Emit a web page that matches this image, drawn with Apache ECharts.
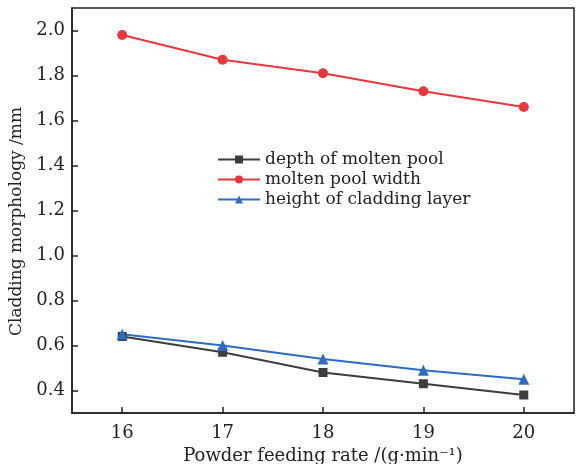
<!DOCTYPE html>
<html>
<head>
<meta charset="utf-8">
<script src="https://cdn.jsdelivr.net/npm/echarts@6/dist/echarts.min.js"></script>
<style>
  html, body { margin: 0; padding: 0; background: #fff; }
  #main { width: 580px; height: 464px; }
</style>
</head>
<body>
<div id="main"></div>
<script>
// powder feeding rate (g/min)
const rates = [16, 17, 18, 19, 20];
const depthPool = [0.64, 0.57, 0.48, 0.43, 0.38];
const widthPool = [1.98, 1.87, 1.81, 1.73, 1.66];
const heightLayer = [0.65, 0.60, 0.54, 0.49, 0.45];
const yTicks = [0.4, 0.6, 0.8, 1.0, 1.2, 1.4, 1.6, 1.8, 2.0];

const font = "DejaVu Serif";

function pairs(vals) {
  return rates.map((r, i) => [r, vals[i]]);
}

const chart = echarts.init(document.getElementById("main"));

const axisCommon = {
  axisLine: { show: true, lineStyle: { color: "#222", width: 1.5 } },
  axisTick: { show: true, inside: true, length: 6, lineStyle: { color: "#222", width: 1.5 } },
  splitLine: { show: false },
};

chart.setOption({
  animation: false,
  grid: {
    left: 72, right: 6, top: 8, bottom: 51,
    outerBoundsMode: "none",
    show: true, borderColor: "#222", borderWidth: 1.5,
  },
  legend: {
    orient: "vertical",
    left: 212,
    top: 146,
    itemWidth: 42,
    itemHeight: 10,
    itemGap: 3,
    textStyle: { fontFamily: font, fontSize: 17, color: "#222" },
    data: ["depth of molten pool", "molten pool width", "height of cladding layer"],
  },
  xAxis: {
    type: "value",
    min: 15.5,
    max: 20.5,
    ...axisCommon,
    axisTick: { ...axisCommon.axisTick, customValues: rates },
    axisLabel: { customValues: rates, fontFamily: font, fontSize: 18, color: "#222", margin: 11 },
    name: "Powder feeding rate /(g\u00b7min\u207b\u00b9)",
    nameLocation: "middle",
    nameGap: 28,
    nameTextStyle: { fontFamily: font, fontSize: 18, color: "#222" },
  },
  yAxis: {
    type: "value",
    min: 0.3,
    max: 2.1,
    ...axisCommon,
    axisTick: { ...axisCommon.axisTick, customValues: yTicks },
    axisLabel: {
      customValues: yTicks,
      fontFamily: font,
      fontSize: 18,
      color: "#222",
      margin: 7,
      formatter: (v) => v.toFixed(1),
    },
    name: "Cladding morphology /mm",
    nameLocation: "middle",
    nameGap: 44,
    nameTextStyle: { fontFamily: font, fontSize: 17, color: "#222", padding: [0, 22, 0, 0] },
  },
  series: [
    {
      name: "depth of molten pool",
      type: "line",
      data: pairs(depthPool),
      symbol: "rect",
      symbolSize: 9,
      itemStyle: { color: "#3d3d3d" },
      lineStyle: { width: 1.8, color: "#3d3d3d" },
    },
    {
      name: "molten pool width",
      type: "line",
      data: pairs(widthPool),
      symbol: "circle",
      symbolSize: 10,
      itemStyle: { color: "#e8383d" },
      lineStyle: { width: 2, color: "#e8383d" },
    },
    {
      name: "height of cladding layer",
      type: "line",
      data: pairs(heightLayer),
      symbol: "triangle",
      symbolSize: 11,
      itemStyle: { color: "#2d6cc0" },
      lineStyle: { width: 2.2, color: "#2d6cc0" },
    },
  ],
});
</script>
</body>
</html>
